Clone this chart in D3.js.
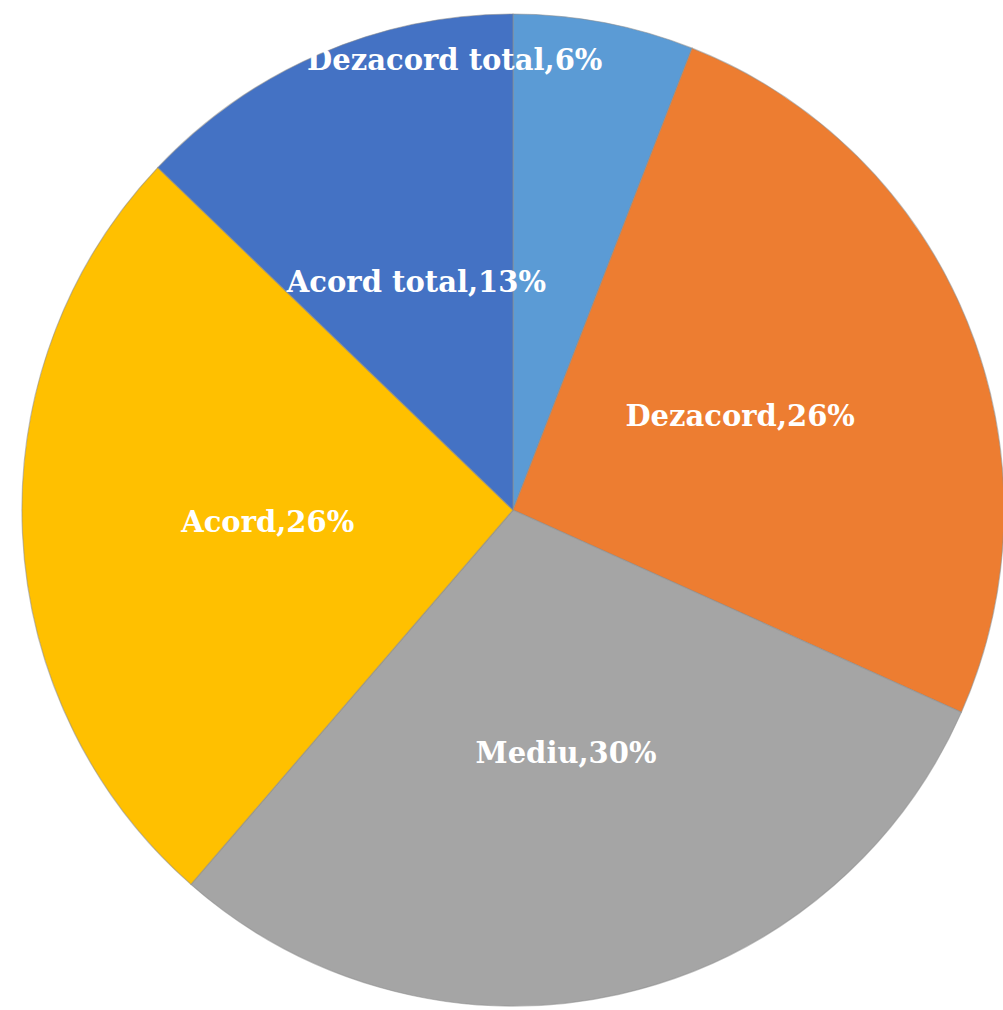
<!DOCTYPE html>
<html>
<head>
<meta charset="utf-8">
<script src="https://cdn.jsdelivr.net/npm/d3@7"></script>
<style>
  html, body { margin: 0; padding: 0; background: #ffffff; }
  svg { display: block; }
</style>
</head>
<body>
<div id="chart"></div>
<script>
// Survey answers, clockwise from 12 o'clock
const categories = ["Dezacord total", "Dezacord", "Mediu", "Acord", "Acord total"];
const values = [6, 26, 30, 26, 13];
const colors = ["#5B9BD5", "#ED7D31", "#A5A5A5", "#FFC000", "#4472C4"];

const width = 1003, height = 1010;
const cx = 513, cy = 510, radius = 496;
const squeezeX = 0.99; // pie is drawn very slightly narrower than tall

const svg = d3.select("#chart").append("svg")
  .attr("width", width)
  .attr("height", height);

const g = svg.append("g").attr("transform", `translate(${cx},${cy})`);
const slices = g.append("g").attr("transform", `scale(${squeezeX},1)`);

const data = categories.map((c, i) => ({ name: c, value: values[i], color: colors[i] }));

const pie = d3.pie().value(d => d.value).sort(null);
const arcs = pie(data);

const arc = d3.arc().innerRadius(0).outerRadius(radius);
const labelArc = d3.arc().innerRadius(radius * 0.5).outerRadius(radius * 0.5);

slices.selectAll("path.slice")
  .data(arcs)
  .join("path")
  .attr("class", "slice")
  .attr("d", arc)
  .attr("fill", d => d.data.color)
  .attr("stroke", "rgba(140,140,140,0.55)")
  .attr("stroke-width", 1.2);

const total = d3.sum(values);

function labelPos(d) {
  const share = d.data.value / total;
  if (share < 0.1) {
    // narrow slice: label sits near the rim, just left of the top
    const a = d.startAngle - 0.13;
    const rr = radius * 0.915;
    return [Math.sin(a) * rr * squeezeX, -Math.cos(a) * rr];
  }
  const [x, y] = labelArc.centroid(d);
  return [x * squeezeX, y];
}

g.selectAll("text.label")
  .data(arcs)
  .join("text")
  .attr("class", "label")
  .attr("transform", d => `translate(${labelPos(d)})`)
  .attr("text-anchor", "middle")
  .attr("dy", "0.36em")
  .attr("fill", "#ffffff")
  .attr("font-family", "'DejaVu Serif', serif")
  .attr("font-weight", "bold")
  .attr("font-size", 29)
  .text(d => `${d.data.name},${d.data.value}%`);
</script>
</body>
</html>
